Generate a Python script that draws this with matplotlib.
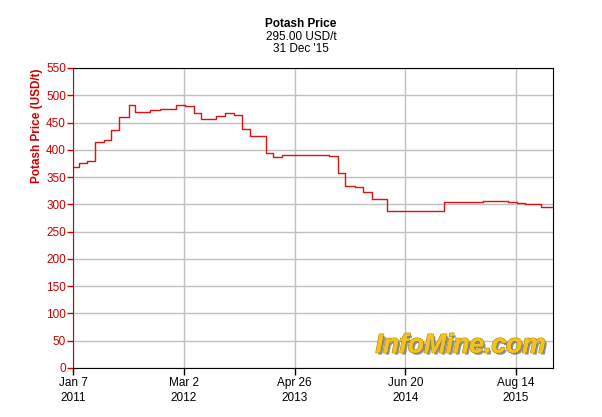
import pandas as pd
import numpy as np
import matplotlib
matplotlib.use('Agg')
import matplotlib.pyplot as plt
import matplotlib.dates as mdates
import matplotlib.patheffects as pe

# step changes (date the price moved, new price USD/t)
dates = ['2011-01-07', '2011-01-31', '2011-03-02', '2011-04-01', '2011-05-06',
         '2011-06-01', '2011-07-02', '2011-08-06', '2011-08-31', '2011-10-27',
         '2011-12-04', '2012-02-03', '2012-03-05', '2012-04-09', '2012-05-07',
         '2012-07-01', '2012-08-05', '2012-09-08', '2012-10-08', '2012-11-07',
         '2013-01-07', '2013-02-05', '2013-03-08', '2013-09-05', '2013-10-07',
         '2013-11-04', '2013-12-12', '2014-01-10', '2014-02-14', '2014-04-13',
         '2014-11-13', '2015-04-12', '2015-07-14', '2015-08-17', '2015-09-15',
         '2015-11-18', '2015-12-31']
prices = [368, 375, 380, 414, 418, 436, 461, 482, 469, 473,
          475, 483, 480, 468, 457, 462, 467, 464, 439, 425,
          395, 387, 391, 389, 358, 334, 331, 323, 309, 287,
          305, 307, 304, 302, 300, 295, 295]

xtick_dates = ['2011-01-07', '2012-03-02', '2013-04-26', '2014-06-20', '2015-08-14']
xtick_labels = ['Jan 7\n2011', 'Mar 2\n2012', 'Apr 26\n2013', 'Jun 20\n2014', 'Aug 14\n2015']
yticks = list(range(0, 551, 50))

red = '#cc0000'
plt.rcParams['font.family'] = ['Liberation Sans', 'DejaVu Sans']

fig = plt.figure(figsize=(6.02, 4.17), dpi=100)
ax = fig.add_axes([73/602, 49/417, 480/602, 300/417])

x = pd.to_datetime(dates)
ax.step(x, prices, where='post', color='#dd1111', linewidth=1.0)

ax.set_xlim(pd.Timestamp('2011-01-07'), pd.Timestamp('2016-01-01'))
ax.set_ylim(0, 550)
ax.set_yticks(yticks)
ax.set_xticks(pd.to_datetime(xtick_dates))
ax.set_xticklabels(xtick_labels, linespacing=1.3)
ax.grid(True, color='#c0c0c0', linewidth=1)
ax.set_axisbelow(True)

ax.tick_params(axis='y', colors=red, labelsize=8.5, length=4, width=1, pad=1)
ax.tick_params(axis='x', colors='black', labelsize=8.5, length=5, width=1, pad=1.5)
for lab in ax.get_yticklabels():
    lab.set_color(red)
ax.spines['left'].set_color(red)
for s in ['top', 'right', 'bottom']:
    ax.spines[s].set_color('black')

fig.text(37/602, 1 - 126/417, 'Potash Price (USD/t)', rotation=90, color=red,
         fontsize=8.5, fontweight='bold', ha='center', va='center')

fig.text(0.5, 1 - 24/417, 'Potash Price', fontsize=8.5, fontweight='bold', ha='center', va='center')
fig.text(0.5, 1 - 37/417, '295.00 USD/t', fontsize=8.5, ha='center', va='center')
fig.text(0.5, 1 - 49/417, "31 Dec '15", fontsize=8.5, ha='center', va='center')

ax.text(0.985, 0.035, 'InfoMine.com', transform=ax.transAxes, ha='right', va='bottom',
        fontsize=19, fontweight='bold', style='italic', color='#f5c21b',
        path_effects=[pe.withStroke(linewidth=1.2, foreground='#b08a10'),
                      pe.withSimplePatchShadow(offset=(1.5, -1.5), shadow_rgbFace='#777777', alpha=0.8),
                      pe.Normal()])

fig.savefig('out.png', dpi=100)
